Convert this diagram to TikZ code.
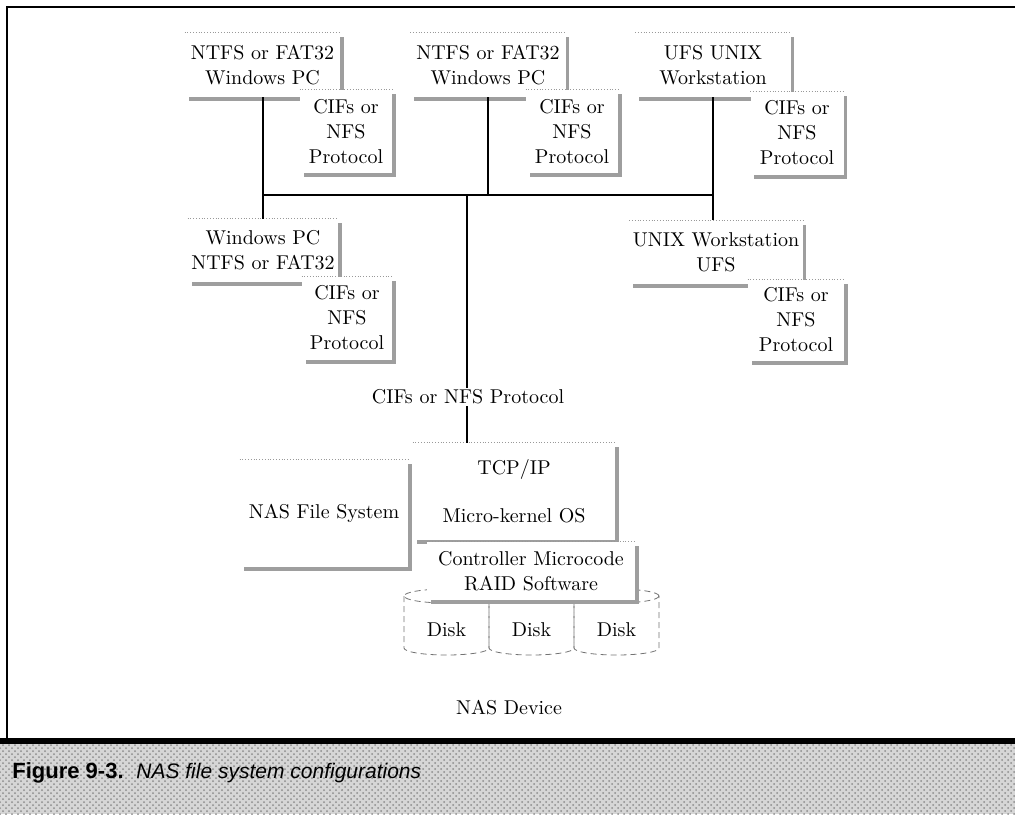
\documentclass[tikz,border=0pt]{standalone}
\usepackage{fontspec}
\newfontfamily\capfont{Liberation Sans}
\usetikzlibrary{shadows,patterns}
\tikzset{
	box/.style={fill=white, align=center, inner sep=0pt, font=\fontsize{10}{12.5}\selectfont,
		drop shadow={shadow xshift=1.75pt, shadow yshift=-2pt, fill=black!38, opacity=1}},
	topline/.style={densely dotted, black!40, line width=0.4pt},
	link/.style={line width=1pt},
	disk/.style={densely dashed, black!55, line width=0.4pt}
}

\begin{document}
\begin{tikzpicture}[x=0.5pt, y=-0.5pt]
		%%%%% START %%%%%
		\useasboundingbox (0, 0) rectangle (1015, 814);
		
		\draw[line width=1pt] (7, 741) -- (7, 7) -- (1015, 7);
		
		\node[box, minimum width=77.5pt, minimum height=32pt] (pcA) at (262.5, 65) {NTFS or FAT32\\Windows PC};
		\node[box, minimum width=46pt, minimum height=41.5pt] (cifA) at (346, 131.5) {CIFs or\\NFS\\Protocol};
		\node[box, minimum width=77.5pt, minimum height=32pt] (pcB) at (488, 65) {NTFS or FAT32\\Windows PC};
		\node[box, minimum width=46pt, minimum height=41.5pt] (cifB) at (572, 131.5) {CIFs or\\NFS\\Protocol};
		\node[box, minimum width=77.5pt, minimum height=32pt] (unixA) at (713, 65) {UFS UNIX\\Workstation};
		\node[box, minimum width=46.5pt, minimum height=41.5pt] (cifC) at (797, 133) {CIFs or\\NFS\\Protocol};
		
		\node[box, minimum width=75pt, minimum height=31.5pt] (pcC) at (263, 250.5) {Windows PC\\NTFS or FAT32};
		\node[box, minimum width=45pt, minimum height=41.5pt] (cifD) at (347, 318) {CIFs or\\NFS\\Protocol};
		\node[box, minimum width=86.5pt, minimum height=31.5pt] (unixB) at (716, 252) {UNIX Workstation\\UFS};
		\node[box, minimum width=48pt, minimum height=40.5pt] (cifE) at (796, 320) {CIFs or\\NFS\\Protocol};
		
		% disks under the controller
		\foreach \x in {404, 489, 574} {
			\draw[disk] (\x+42.5, 596) ellipse (42.5 and 7);
			\draw[disk] (\x, 596) -- (\x, 648) arc (180:0:42.5 and 7) -- (\x+85, 596);
			\node[font=\fontsize{10}{12.5}\selectfont] (disk\x) at (\x+42.5, 630) {Disk};
		}
		
		\node[box, minimum width=101pt, minimum height=48.5pt] (tcp) at (514, 491.5) {TCP/IP\\[11.5pt]Micro-kernel OS};
		\node[box, minimum width=84pt, minimum height=53.5pt] (nasfs) at (324, 513.5) {NAS File System};
		\node[box, minimum width=104pt, minimum height=29pt] (ctrl) at (531, 571) {Controller Microcode\\RAID Software};
		
		\foreach \n in {pcA, cifA, pcB, cifB, unixA, cifC, pcC, cifD, unixB, cifE, tcp, nasfs, ctrl}
			\draw[topline] (\n.north west) -- (\n.north east);
		
		\coordinate (bus) at (467, 195);
		\draw[link] (pcA.south) -- (pcA.south |- pcC.north);
		\draw[link] (unixA.south) -- (unixA.south |- unixB.north);
		\draw[link] (pcB.south) -- (pcB.south |- bus);
		\draw[link] (pcA.south |- bus) -- (unixA.south |- bus);
		\draw[link] (bus) -- (bus |- tcp.north);
		\node[fill=white, inner sep=1pt, font=\fontsize{10}{12.5}\selectfont] (proto) at (468, 397) {CIFs or NFS Protocol};
		
		\node[font=\fontsize{10}{12.5}\selectfont] (nasdev) at (509, 708) {NAS Device};
		
		% caption band
		\fill[black!16] (0, 744) rectangle (1015, 814);
		\fill[pattern=crosshatch dots, pattern color=black!45] (0, 744) rectangle (1015, 814);
		\draw[line width=3pt] (0, 741) -- (1015, 741);
		\node[anchor=west, inner sep=0pt, font=\capfont\bfseries\fontsize{11}{13}\selectfont] (fig) at (12, 773) {Figure 9-3.};
		\node[anchor=west, inner sep=0pt, font=\capfont\itshape\fontsize{10.5}{13}\selectfont] (cap) at (136, 773) {NAS file system configurations};
		
		%%%%% END %%%%%
	\end{tikzpicture}
\end{document}
